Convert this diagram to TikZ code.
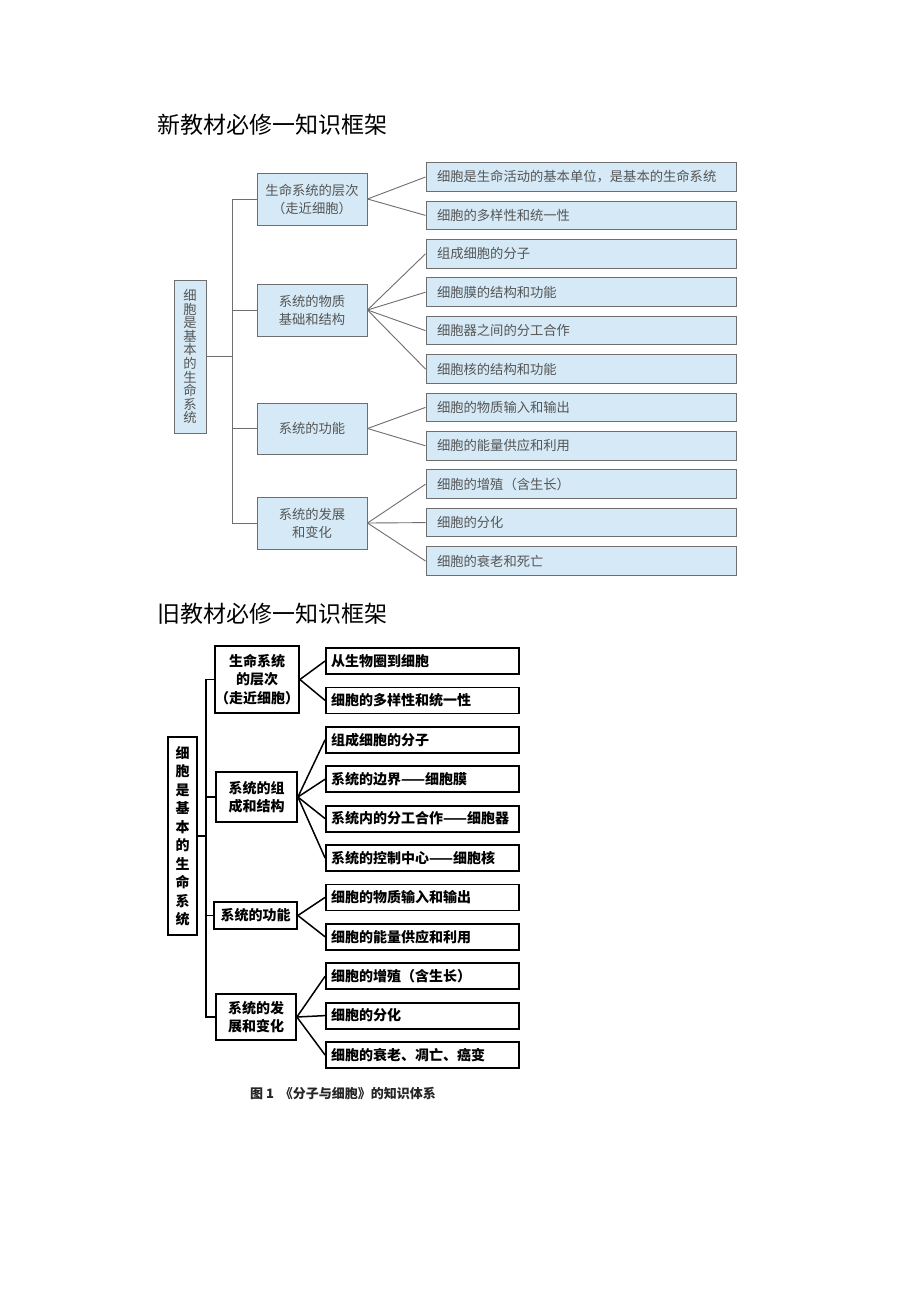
\documentclass[tikz,border=0pt]{standalone}
\usepackage{fontspec}
\newfontfamily\cjk{Noto Sans CJK SC}
\definecolor{tfill}{HTML}{D5EAF6}
\definecolor{tline}{HTML}{6E6E6E}
\definecolor{ttext}{HTML}{555555}
\begin{document}
\begin{tikzpicture}[x=1pt,y=-1pt,
  tbox/.style={draw=tline, line width=1pt, fill=tfill, text=ttext,
    font=\cjk\fontsize{13.3}{18}\selectfont, inner sep=0pt, align=center},
  tleaf/.style={tbox, minimum width=310, minimum height=28.5, text width=288, align=left},
  tlink/.style={draw=tline, line width=0.9pt},
  bbox/.style={draw=black, line width=1.8pt, fill=white, text=black,
    font=\cjk\bfseries\fontsize{14}{18.5}\selectfont, inner sep=0pt, align=center},
  bleaf/.style={bbox, minimum width=193, minimum height=26, text width=183, align=left},
  blink/.style={draw=black, line width=1.5pt},
  ttl/.style={font=\cjk\fontsize{23}{26}\selectfont, text=black, inner sep=0pt, anchor=west},
]
\useasboundingbox[fill=white] (0,0) rectangle (920,1302);

% ================= top: new textbook =================
\node[ttl] (t1) at (157,125) {新教材必修一知识框架};

\node[tbox, minimum width=32, minimum height=153, font=\cjk\fontsize{13.3}{13.6}\selectfont] (troot) at (190,356.5)
  {细\\胞\\是\\基\\本\\的\\生\\命\\系\\统};

\node[tbox, minimum width=110, minimum height=52] (ta) at (312,199) {生命系统的层次\\（走近细胞）};
\node[tbox, minimum width=110, minimum height=52] (tb) at (312,310) {系统的物质\\基础和结构};
\node[tbox, minimum width=110, minimum height=51] (tc) at (312,428.5) {系统的功能};
\node[tbox, minimum width=110, minimum height=52] (td) at (312,523) {系统的发展\\和变化};

\node[tleaf] (t01) at (581,177) {细胞是生命活动的基本单位，是基本的生命系统};
\node[tleaf] (t02) at (581,215.4) {细胞的多样性和统一性};
\node[tleaf] (t03) at (581,253.8) {组成细胞的分子};
\node[tleaf] (t04) at (581,292.2) {细胞膜的结构和功能};
\node[tleaf] (t05) at (581,330.6) {细胞器之间的分工合作};
\node[tleaf] (t06) at (581,369) {细胞核的结构和功能};
\node[tleaf] (t07) at (581,407.4) {细胞的物质输入和输出};
\node[tleaf] (t08) at (581,445.8) {细胞的能量供应和利用};
\node[tleaf] (t09) at (581,484.2) {细胞的增殖（含生长）};
\node[tleaf] (t10) at (581,522.6) {细胞的分化};
\node[tleaf] (t11) at (581,561) {细胞的衰老和死亡};

\coordinate (ts) at (232,0);
\draw[tlink] (ta.west) -- (ta.west -| ts) -- (td.west -| ts) -- (td.west);
\draw[tlink] (tb.west) -- (tb.west -| ts);
\draw[tlink] (tc.west) -- (tc.west -| ts);
\draw[tlink] (troot.east) -- (troot.east -| ts);

\foreach \s/\t in {ta/t01, ta/t02, tb/t03, tb/t04, tb/t05, tb/t06, tc/t07, tc/t08, td/t09, td/t10, td/t11}
  \draw[tlink] (\s.east) -- (\t.west);

% ================= bottom: old textbook =================
\node[ttl] (t2) at (157,614) {旧教材必修一知识框架};

\node[bbox, minimum width=29, minimum height=198] (broot) at (182.5,836)
  {细\\胞\\是\\基\\本\\的\\生\\命\\系\\统};

\node[bbox, minimum width=80, minimum height=67] (ba) at (257,679.5) {生命系统\\的层次\\（走近细胞）};
\node[bbox, minimum width=81, minimum height=50] (bb) at (256.5,797) {系统的组\\成和结构};
\node[bbox, minimum width=83, minimum height=27] (bc) at (255.5,915.5) {系统的功能};
\node[bbox, minimum width=80, minimum height=46] (bd) at (256,1017) {系统的发\\展和变化};

\node[bleaf] (b01) at (422.5,661) {从生物圈到细胞};
\node[bleaf] (b02) at (422.5,700.4) {细胞的多样性和统一性};
\node[bleaf] (b03) at (422.5,739.8) {组成细胞的分子};
\node[bleaf] (b04) at (422.5,779.2) {系统的边界——细胞膜};
\node[bleaf] (b05) at (422.5,818.6) {系统内的分工合作——细胞器};
\node[bleaf] (b06) at (422.5,858) {系统的控制中心——细胞核};
\node[bleaf] (b07) at (422.5,897.4) {细胞的物质输入和输出};
\node[bleaf] (b08) at (422.5,936.8) {细胞的能量供应和利用};
\node[bleaf] (b09) at (422.5,976.2) {细胞的增殖（含生长）};
\node[bleaf] (b10) at (422.5,1015.6) {细胞的分化};
\node[bleaf] (b11) at (422.5,1055) {细胞的衰老、凋亡、癌变};

\coordinate (bs) at (206,0);
\draw[blink] (ba.west) -- (ba.west -| bs) -- (bd.west -| bs) -- (bd.west);
\draw[blink] (bb.west) -- (bb.west -| bs);
\draw[blink] (bc.west) -- (bc.west -| bs);
\draw[blink] (broot.east) -- (broot.east -| bs);

\foreach \s/\t in {ba/b01, ba/b02, bb/b03, bb/b04, bb/b05, bb/b06, bc/b07, bc/b08, bd/b09, bd/b10, bd/b11}
  \draw[blink] (\s.east) -- (\t.west);

\node[font=\cjk\bfseries\fontsize{13}{15}\selectfont, text=black!85, inner sep=0pt] (cap) at (343,1094)
  {图 1\ \ 《分子与细胞》的知识体系};
\end{tikzpicture}
\end{document}
